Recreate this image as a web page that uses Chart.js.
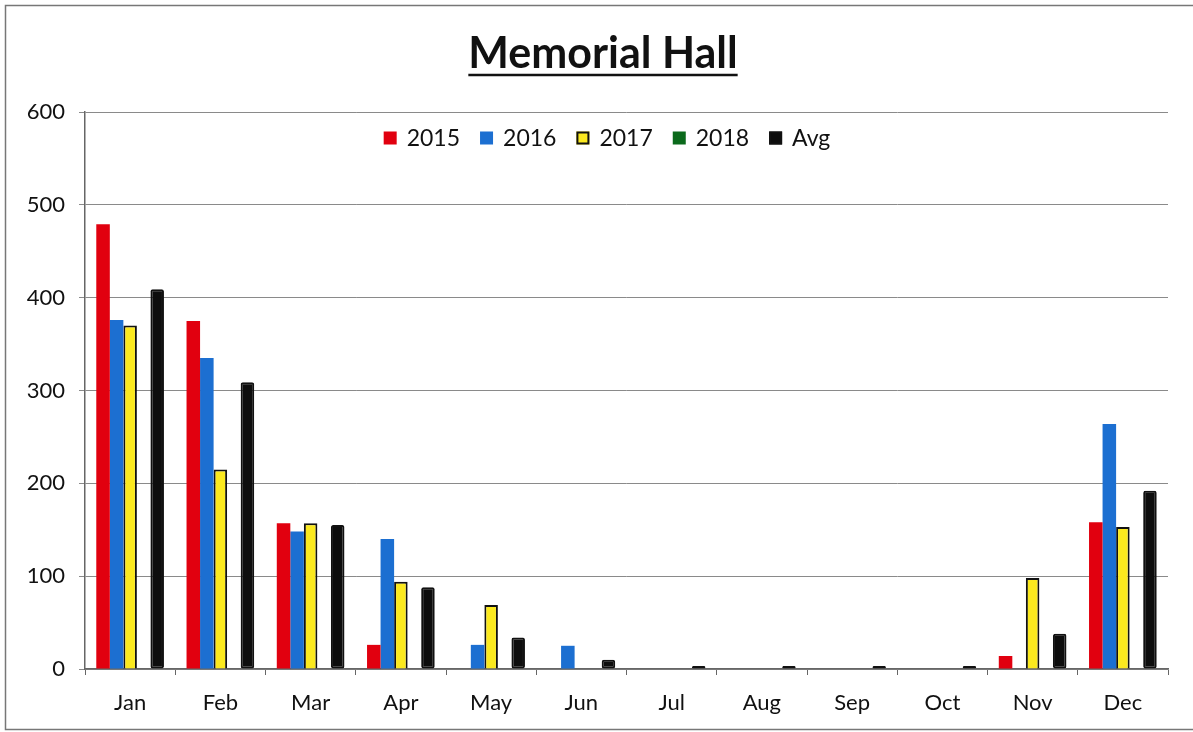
<!DOCTYPE html>
<html>
<head>
<meta charset="utf-8">
<script src="https://cdn.jsdelivr.net/npm/chart.js@4.4.1/dist/chart.umd.min.js"></script>
<style>
  html, body { margin: 0; padding: 0; background: #fff; }
  #wrap { width: 1193px; height: 732px; position: relative; }
</style>
</head>
<body>
<div id="wrap"><canvas id="barChart" width="1193" height="732"></canvas></div>
<script>
/** datos de la grafica */
const meses = ["Jan", "Feb", "Mar", "Apr", "May", "Jun", "Jul", "Aug", "Sep", "Oct", "Nov", "Dec"];
const y2015 = [479, 375, 157, 26, 0, 0, 0, 0, 0, 0, 14, 158];
const y2016 = [376, 335, 148, 140, 26, 25, 0, 0, 0, 0, 0, 264];
const y2017 = [370, 215, 157, 94, 69, 0, 0, 0, 0, 0, 98, 153];
const y2018 = [0, 0, 0, 0, 0, 0, 0, 0, 0, 0, 0, 0];
const promedio = [409, 309, 155, 88, 34, 10, 0, 0, 0, 0, 38, 192];
const y_ticks = [0, 100, 200, 300, 400, 500, 600];
const titulo = "Memorial Hall";

const fuente = "Lato, 'Open Sans', sans-serif";

/** fondo, marco, titulo subrayado y leyenda dentro del area */
const marco = {
  id: 'marco',
  beforeDraw(chart) {
    const ctx = chart.ctx;
    ctx.save();
    ctx.fillStyle = '#fff';
    ctx.fillRect(0, 0, chart.width, chart.height);
    ctx.strokeStyle = '#777';
    ctx.lineWidth = 1.5;
    ctx.strokeRect(5.5, 5.5, 1200, 724);
    ctx.restore();
  },
  afterDraw(chart) {
    const ctx = chart.ctx;
    ctx.save();
    // titulo
    ctx.font = "bold 43px " + fuente;
    ctx.fillStyle = '#111';
    ctx.textAlign = 'center';
    ctx.textBaseline = 'alphabetic';
    const x = 603, y = 68;
    ctx.fillText(titulo, x, y);
    const w = ctx.measureText(titulo).width;
    ctx.strokeStyle = '#111';
    ctx.lineWidth = 2.5;
    ctx.beginPath();
    ctx.moveTo(x - w / 2, y + 7);
    ctx.lineTo(x + w / 2, y + 7);
    ctx.stroke();

    // leyenda
    ctx.font = "23px " + fuente;
    ctx.textAlign = 'left';
    ctx.textBaseline = 'middle';
    const caja = 13, gap = 10, entre = 20, ly = 138;
    const items = chart.data.datasets.map(d => ({
      d: d, w: caja + gap + ctx.measureText(d.label).width
    }));
    let total = items.reduce((s, it) => s + it.w, 0) + entre * (items.length - 1);
    let lx = 607 - total / 2;
    items.forEach(it => {
      const d = it.d;
      ctx.fillStyle = d.backgroundColor;
      ctx.fillRect(lx, ly - caja / 2, caja, caja);
      if (d.borderWidth) {
        ctx.strokeStyle = '#111';
        ctx.lineWidth = 2;
        ctx.strokeRect(lx + 1, ly - caja / 2 + 1, caja - 2, caja - 2);
      }
      ctx.fillStyle = '#111';
      ctx.fillText(d.label, lx + caja + gap, ly + 1);
      lx += it.w + entre;
    });
    ctx.restore();
  }
};

var ctx = document.getElementById("barChart").getContext('2d');
var barChart = new Chart(ctx, {
  type: 'bar',
  data: {
    labels: meses,
    datasets: [{
      label: '2015',
      data: y2015,
      backgroundColor: "#e1000f",
      borderWidth: 0
    }, {
      label: '2016',
      data: y2016,
      backgroundColor: "#1c6fd1",
      borderWidth: 0
    }, {
      label: '2017',
      data: y2017,
      backgroundColor: "#fbe91e",
      borderColor: "#111",
      borderWidth: 2
    }, {
      label: '2018',
      data: y2018,
      backgroundColor: "#0b6a1c",
      borderWidth: 0
    }, {
      label: 'Avg',
      data: promedio,
      backgroundColor: "#0d0d0d",
      borderColor: "#111",
      borderWidth: 2,
      borderRadius: 2,
      borderSkipped: false,
      minBarLength: 3
    }]
  },
  options: {
    responsive: false,
    animation: false,
    events: [],
    layout: { padding: { top: 112, right: 25, bottom: 0, left: 0 } },
    datasets: { bar: { categoryPercentage: 0.75, barPercentage: 1.0 } },
    plugins: {
      tooltip: { enabled: false },
      title: { display: false },
      legend: { display: false }
    },
    scales: {
      x: {
        grid: {
          display: true,
          drawOnChartArea: false,
          drawTicks: true,
          tickLength: 6,
          color: '#666',
          offset: true
        },
        border: { color: '#666', width: 1.5 },
        ticks: { font: { family: fuente, size: 22 }, color: '#111', padding: 15 },
        afterFit(scale) { scale.height = 63; }
      },
      y: {
        min: 0,
        max: 600,
        afterBuildTicks(scale) { scale.ticks = y_ticks.map(v => ({ value: v })); },
        grid: { color: '#8a8a8a', lineWidth: 1, tickLength: 6 },
        border: { color: '#666', width: 1.5 },
        ticks: { font: { family: fuente, size: 22 }, color: '#111', padding: 14 },
        afterFit(scale) { scale.width = 85; }
      }
    }
  },
  plugins: [marco]
});
</script>
</body>
</html>
